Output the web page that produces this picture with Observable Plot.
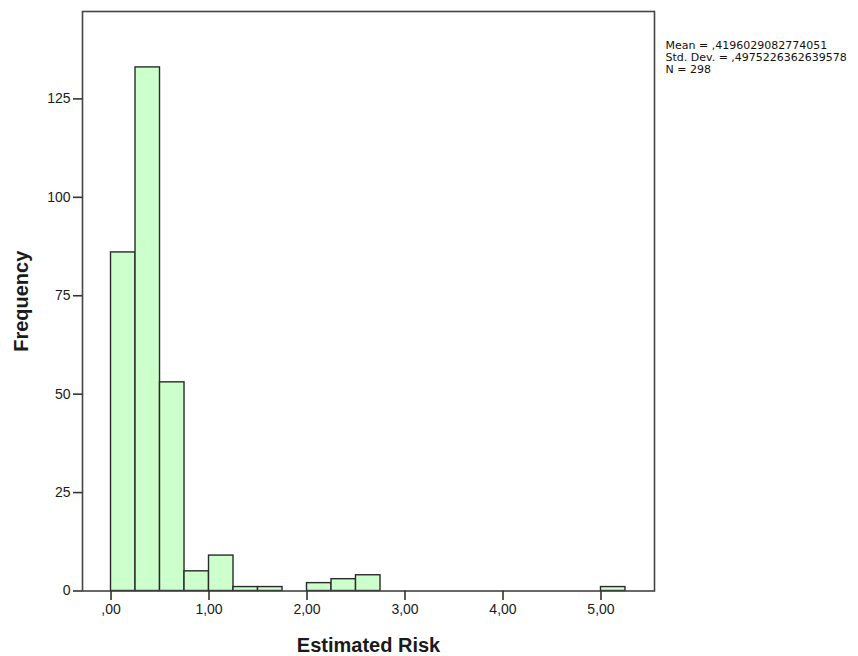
<!DOCTYPE html>
<html>
<head>
<meta charset="utf-8">
<script src="https://cdn.jsdelivr.net/npm/d3@7"></script>
<script src="https://cdn.jsdelivr.net/npm/@observablehq/plot@0.6"></script>
<style>
  html, body { margin: 0; padding: 0; background: #fff; }
  #chart { position: relative; width: 858px; height: 656px; }
  svg { font-family: "Liberation Sans", Arial, sans-serif; }
</style>
</head>
<body>
<div id="chart"></div>
<script>
// Histogram data (bin width 0.25)
const binStart = [0.00, 0.25, 0.50, 0.75, 1.00, 1.25, 1.50, 2.00, 2.25, 2.50, 5.00];
const binEnd   = [0.25, 0.50, 0.75, 1.00, 1.25, 1.50, 1.75, 2.25, 2.50, 2.75, 5.25];
const counts   = [86, 133, 53, 5, 9, 1, 1, 2, 3, 4, 1];

const xTicks = [0, 1, 2, 3, 4, 5];
const xTickLabels = [",00", "1,00", "2,00", "3,00", "4,00", "5,00"];
const yTicks = [0, 25, 50, 75, 100, 125];

const statsText = ["Mean = ,4196029082774051", "Std. Dev. = ,4975226362639578", "N = 298"];

const bins = binStart.map((s, i) => ({x1: s, x2: binEnd[i], y: counts[i]}));

const plot = Plot.plot({
  width: 858,
  height: 656,
  marginLeft: 82,
  marginRight: 204,
  marginTop: 11,
  marginBottom: 65.5,
  style: {fontFamily: "'Liberation Sans', Arial, sans-serif", fontSize: "14px", color: "#1a1a1a"},
  x: {domain: [-0.291, 5.546], label: null},
  y: {domain: [0, 147.2], label: null},
  marks: [
    Plot.rectY(bins, {x1: "x1", x2: "x2", y: "y", fill: "#ccffcc", stroke: "#2a2a2a", strokeWidth: 1.4, inset: 0}),
    Plot.frame({stroke: "#444", strokeWidth: 1.6}),
    Plot.axisX({ticks: xTicks, tickFormat: d => xTickLabels[xTicks.indexOf(d)], tickSize: 9.5, tickPadding: 4, stroke: "#333", strokeWidth: 1.6, fontSize: 14, fill: "#1a1a1a", label: null}),
    Plot.axisY({ticks: yTicks, tickSize: 9, tickPadding: 3, stroke: "#333", strokeWidth: 1.6, fontSize: 14, fill: "#1a1a1a", label: null}),
    Plot.text(["Estimated Risk"], {frameAnchor: "bottom", dy: 55, fontSize: 20, fontWeight: "bold", fill: "#1a1a1a", lineAnchor: "middle"}),
    Plot.text(["Frequency"], {frameAnchor: "left", dx: -61, rotate: -90, fontSize: 20, fontWeight: "bold", fill: "#1a1a1a", textAnchor: "middle"}),
    Plot.text([statsText.join("\n")], {frameAnchor: "top-right", dx: 11, dy: 29, textAnchor: "start", lineAnchor: "top", fontSize: 11, lineHeight: 1.09, fill: "#111", fontFamily: "'DejaVu Sans', sans-serif"})
  ]
});
document.getElementById("chart").appendChild(plot);
</script>
</body>
</html>
